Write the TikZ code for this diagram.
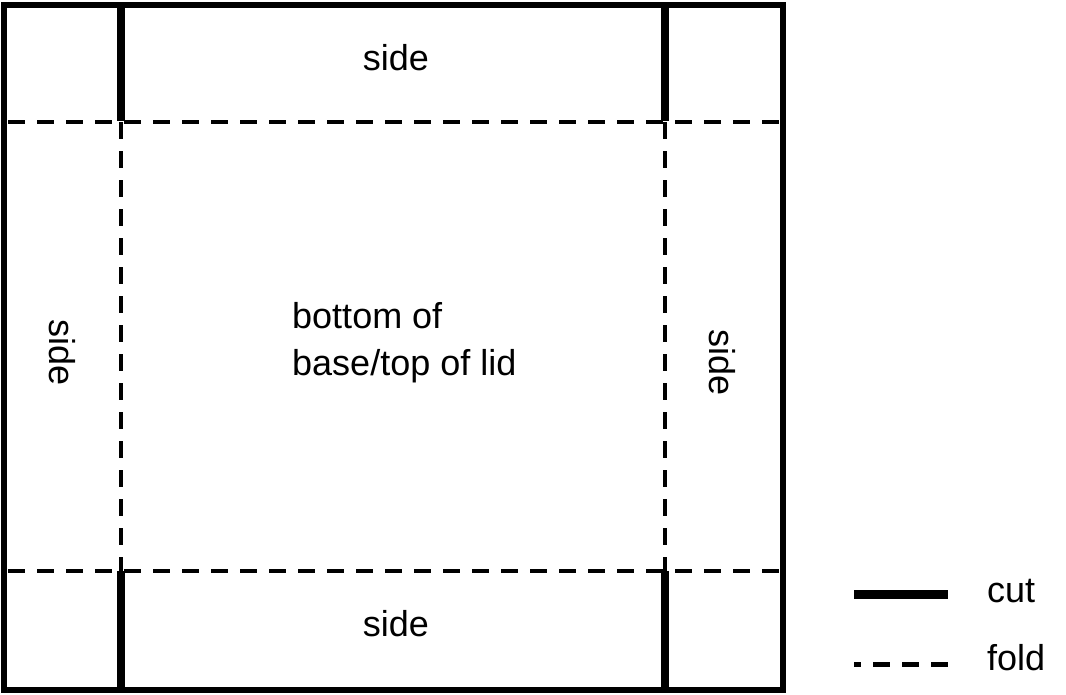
\documentclass[tikz,border=0pt]{standalone}
\usepackage{fontspec}
\setmainfont{Liberation Sans}
\begin{document}
\begin{tikzpicture}[x=1pt,y=-1pt,
  cutline/.style={line width=8pt},
  foldline/.style={line width=4.5pt, dash pattern=on 17pt off 12pt},
  edge/.style={line width=6pt},
  lbl/.style={inner sep=0pt, font=\fontsize{36}{47}\selectfont}]
\useasboundingbox (0,0) rectangle (1066,694);
\fill[white] (0,0) rectangle (1066,694);
% corners
\coordinate (TL) at (3.5,4.5);
\coordinate (BR) at (782.5,690);
\draw[edge] (TL) rectangle (BR);
% fold lines
\coordinate (h1a) at (8,122); \coordinate (h1b) at (780,122);
\coordinate (h2a) at (8,571); \coordinate (h2b) at (780,571);
\coordinate (v1a) at (121,122); \coordinate (v1b) at (121,571);
\coordinate (v2a) at (665,122); \coordinate (v2b) at (665,571);
\draw[foldline] (h1a) -- (h1b);
\draw[foldline] (h2a) -- (h2b);
\draw[foldline] (v1a) -- (v1b);
\draw[foldline] (v2a) -- (v2b);
% cut lines
\coordinate (c1a) at (121,4); \coordinate (c1b) at (121,121);
\coordinate (c2a) at (664.5,4); \coordinate (c2b) at (664.5,121);
\coordinate (c3a) at (121,571); \coordinate (c3b) at (121,690);
\coordinate (c4a) at (664.5,571); \coordinate (c4b) at (664.5,690);
\draw[cutline] (c1a) -- (c1b);
\draw[cutline] (c2a) -- (c2b);
\draw[cutline] (c3a) -- (c3b);
\draw[cutline] (c4a) -- (c4b);
% labels
\node[lbl, anchor=base] (stop) at (396,70) {side};
\node[lbl, anchor=base] (sbot) at (396,636) {side};
\node[lbl, rotate=-90] (sleft) at (62,353) {side};
\node[lbl, rotate=-90] (sright) at (722,363) {side};
\node[lbl, anchor=base west, align=left] (mid) at (292,375) {bottom of\\base/top of lid};
% legend
\coordinate (lc1) at (854,594); \coordinate (lc2) at (948,594);
\coordinate (lf1) at (854,664); \coordinate (lf2) at (948,664);
\draw[line width=9pt] (lc1) -- (lc2);
\draw[line width=5pt, dash pattern=on 17pt off 12pt, dash phase=10pt] (lf1) -- (lf2);
\node[lbl, anchor=base west] (tcut) at (987,602) {cut};
\node[lbl, anchor=base west] (tfold) at (987,670) {fold};
\end{tikzpicture}
\end{document}
